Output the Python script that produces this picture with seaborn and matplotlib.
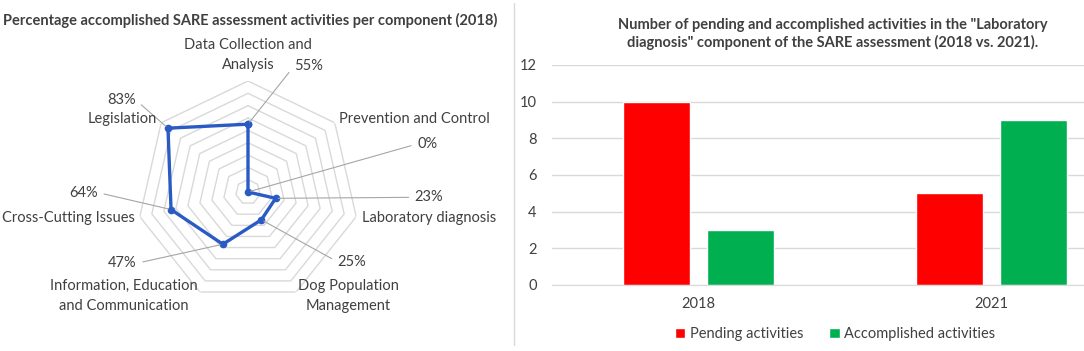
import numpy as np
import pandas as pd
import matplotlib
matplotlib.use("Agg")
import matplotlib.pyplot as plt
import seaborn as sns
from matplotlib.lines import Line2D

sns.set_style("white")
plt.rcParams["font.family"] = ["Lato", "DejaVu Sans"]

# ================= DATA =================

components = [
    "Data Collection and\nAnalysis",
    "Prevention and Control",
    "Laboratory diagnosis",
    "Dog Population\nManagement",
    "Information, Education\nand Communication",
    "Cross-Cutting Issues",
    "Legislation",
]
pct_2018 = [0.55, 0.00, 0.23, 0.25, 0.47, 0.64, 0.83]

years = ["2018", "2021"]
pending = [10, 5]
accomplished = [3, 9]
series_names = ["Pending activities", "Accomplished activities"]

# ================= STYLE =================

TEXT = "#404040"
GRID = "#D9D9D9"
LEADER = "#A6A6A6"
BLUE = "#2A5BC4"
RED = "#FF0000"
GREEN = "#00B050"
W, H = 1084, 351

fig = plt.figure(figsize=(W / 100, H / 100), dpi=100)

# ============================================================
# LEFT: RADAR CHART
# ============================================================

ax = fig.add_axes([137 / W, 48 / H, 222 / W, 222 / H], projection="polar")
n = len(components)
theta = np.linspace(0, 2 * np.pi, n, endpoint=False)
ax.set_theta_offset(np.pi / 2)
ax.set_theta_direction(-1)
ax.set_ylim(0, 0.9)
ax.grid(False)
ax.spines["polar"].set_visible(False)
ax.set_xticks([])
ax.set_yticks([])

ring_theta = np.append(theta, theta[0])
for level in np.arange(0.1, 0.91, 0.1):
    ax.plot(ring_theta, [level] * (n + 1), color=GRID, lw=1, zorder=1)

vals = pct_2018 + [pct_2018[0]]
ax.plot(ring_theta, vals, color=BLUE, lw=2.4, marker="o", ms=4.5,
        markerfacecolor=BLUE, markeredgecolor=BLUE, zorder=3)

# percentage labels (offset in pixels from the point, alignment)
pct_offsets = [(46, 58, "left"), (169, 48, "left"), (139, 1, "left"),
               (76, -42, "left"), (-86, -19, "right"), (-73, 17, "right"),
               (-32, 28, "right")]
for t, v, (dx, dy, ha) in zip(theta, pct_2018, pct_offsets):
    ax.annotate(f"{v:.0%}", xy=(t, v), xytext=(dx, dy),
                textcoords="offset pixels", ha=ha, va="center",
                fontsize=10.5, color=TEXT, annotation_clip=False,
                arrowprops=dict(arrowstyle="-", color=LEADER, lw=0.8,
                                shrinkA=2, shrinkB=2,
                                relpos=(0 if ha == "left" else 1, 0.5)))

# category labels (offset from the outer ring vertex), one text per line
cat_offsets = [(0, 26, "center"), (4, 4, "left"), (6, -1, "left"),
               (52, -4, "center"), (-76, -4, "center"), (-5, -1, "right"),
               (-4, 4, "right")]
line_h = 20
for t, lab, (dx, dy, ha) in zip(theta, components, cat_offsets):
    lines = lab.split("\n")
    for j, line in enumerate(lines):
        y_off = dy + (len(lines) - 1) / 2 * line_h - j * line_h
        ax.annotate(line, xy=(t, 0.9), xytext=(dx, y_off),
                    textcoords="offset pixels", ha=ha, va="center",
                    fontsize=10.5, color=TEXT, annotation_clip=False)

fig.text(3 / W, 1 - 20 / H,
         "Percentage accomplished SARE assessment activities per component (2018)",
         ha="left", va="center", fontsize=10.5, fontweight="bold", color=TEXT)

# divider between panels
fig.add_artist(Line2D([514 / W, 514 / W], [1 - 3 / H, 1 - 345 / H],
                      transform=fig.transFigure, color=GRID, lw=1))

# ============================================================
# RIGHT: BAR CHART
# ============================================================

bars = pd.DataFrame({
    "year": years * 2,
    "series": [series_names[0]] * len(years) + [series_names[1]] * len(years),
    "count": pending + accomplished,
})

ax2 = fig.add_axes([552 / W, 66 / H, 586 / W, 220 / H])
sns.barplot(data=bars, x="year", y="count", hue="series",
            palette=[RED, GREEN], saturation=1, width=0.57, gap=0.2, ax=ax2)

ax2.set_xlim(-0.5, 1.5)
ax2.set_ylim(0, 12)
ax2.set_yticks(range(0, 13, 2))
ax2.yaxis.grid(True, color=GRID, lw=1)
ax2.set_axisbelow(True)
for side in ["top", "right", "left"]:
    ax2.spines[side].set_visible(False)
ax2.spines["bottom"].set_color(GRID)
ax2.set_xlabel("")
ax2.set_ylabel("")
ax2.tick_params(axis="y", length=0, pad=11, labelsize=10.5, labelcolor=TEXT)
ax2.tick_params(axis="x", length=0, pad=9, labelsize=10.5, labelcolor=TEXT)

sns.move_legend(ax2, "center", bbox_to_anchor=(835 / W, 17 / H),
                bbox_transform=fig.transFigure, ncol=2, frameon=False,
                title=None, handlelength=0.7, handleheight=0.7,
                columnspacing=1.8, handletextpad=0.3, fontsize=10.5)
for txt in ax2.get_legend().get_texts():
    txt.set_color(TEXT)

fig.text(833 / W, 1 - 34 / H,
         "Number of pending and accomplished activities in the \"Laboratory\n"
         "diagnosis\" component of the SARE assessment (2018 vs. 2021).",
         ha="center", va="center", fontsize=10.5, fontweight="bold",
         color=TEXT, linespacing=1.3)

fig.savefig("out.png", dpi=100)
